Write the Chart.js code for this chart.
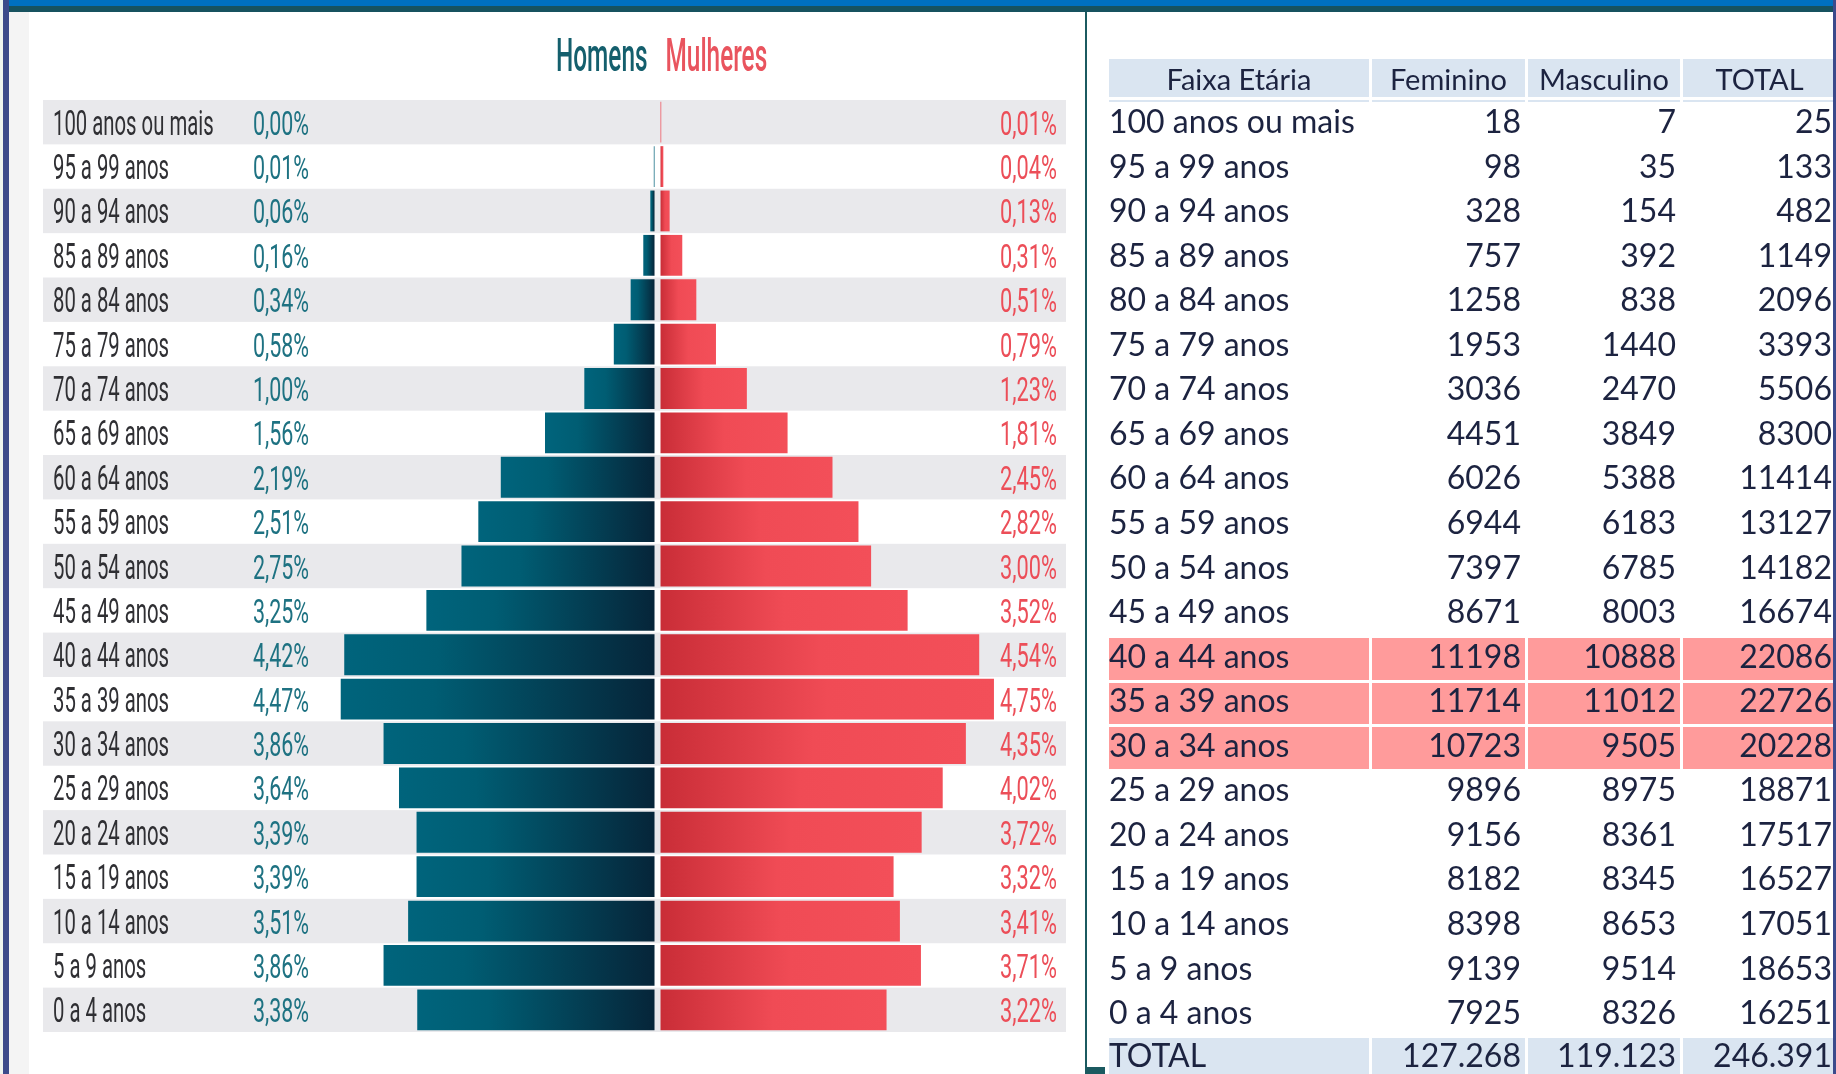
<!DOCTYPE html>
<html lang="pt-BR">
<head>
<meta charset="utf-8">
<title>Pirâmide etária</title>
<script src="https://cdn.jsdelivr.net/npm/chart.js@4.4.1/dist/chart.umd.min.js"></script>
<style>
    html, body { margin: 0; padding: 0; background: #fff; }
    #page { position: relative; width: 1836px; height: 1074px; overflow: hidden; background: #fff; font-family: Lato, 'Open Sans', sans-serif; }
    .blk { position: absolute; }
    #faixaAzul { left: 9px; top: 0; width: 1824px; height: 6px; background: #0070c0; }
    #faixaVerde { left: 9px; top: 6px; width: 1824px; height: 6px; background: #17525f; }
    #bordaClara { left: 0; top: 0; width: 3px; height: 1074px; background: #eef4f0; }
    #bordaEsq { left: 3px; top: 0; width: 6px; height: 1074px; background: #3b4a8b; }
    #faixaCinza { left: 9px; top: 12px; width: 20px; height: 1062px; background: #f4f4f4; }
    #divisor { left: 1085px; top: 12px; width: 2px; height: 1062px; background: #1b5a60; }
    #divisorPe { left: 1085px; top: 1067px; width: 20px; height: 7px; background: #1b5a60; }
    #bordaDir { left: 1833px; top: 0; width: 3px; height: 1074px; background: #3b4a8b; z-index: 5; }
    #chartBox { position: absolute; left: 9px; top: 12px; width: 1076px; height: 1062px; }
    #tabela { position: absolute; left: 0; top: 0; width: 1836px; height: 1074px; }
    .cel { position: absolute; box-sizing: border-box; }
    .txt { position: absolute; white-space: nowrap; color: #1c2340; font-size: 32px; line-height: 32px; }
</style>
</head>
<body>
<div id="page">
    <div class="blk" id="faixaCinza"></div>
    <div id="chartBox"><canvas id="piramide" width="1076" height="1062"></canvas></div>
    <div id="tabela"></div>
    <div class="blk" id="faixaAzul"></div>
    <div class="blk" id="faixaVerde"></div>
    <div class="blk" id="bordaClara"></div>
    <div class="blk" id="bordaEsq"></div>
    <div class="blk" id="divisor"></div>
    <div class="blk" id="divisorPe"></div>
    <div class="blk" id="bordaDir"></div>
</div>
<script>
    const faixas = [
        '100 anos ou mais', '95 a 99 anos', '90 a 94 anos', '85 a 89 anos',
        '80 a 84 anos', '75 a 79 anos', '70 a 74 anos', '65 a 69 anos',
        '60 a 64 anos', '55 a 59 anos', '50 a 54 anos', '45 a 49 anos',
        '40 a 44 anos', '35 a 39 anos', '30 a 34 anos', '25 a 29 anos',
        '20 a 24 anos', '15 a 19 anos', '10 a 14 anos', '5 a 9 anos', '0 a 4 anos',
    ];

    // % da população (pirâmide)
    const homensPct = [
        0.00, 0.01, 0.06, 0.16, 0.34, 0.58, 1.00, 1.56, 2.19, 2.51, 2.75,
        3.25, 4.42, 4.47, 3.86, 3.64, 3.39, 3.39, 3.51, 3.86, 3.38,
    ];
    const mulheresPct = [
        0.01, 0.04, 0.13, 0.31, 0.51, 0.79, 1.23, 1.81, 2.45, 2.82, 3.00,
        3.52, 4.54, 4.75, 4.35, 4.02, 3.72, 3.32, 3.41, 3.71, 3.22,
    ];

    // tabela
    const cabecalho = ['Faixa Etária', 'Feminino', 'Masculino', 'TOTAL'];
    const feminino = [
        18, 98, 328, 757, 1258, 1953, 3036, 4451, 6026, 6944, 7397,
        8671, 11198, 11714, 10723, 9896, 9156, 8182, 8398, 9139, 7925,
    ];
    const masculino = [
        7, 35, 154, 392, 838, 1440, 2470, 3849, 5388, 6183, 6785,
        8003, 10888, 11012, 9505, 8975, 8361, 8345, 8653, 9514, 8326,
    ];
    const totalFaixa = [
        25, 133, 482, 1149, 2096, 3393, 5506, 8300, 11414, 13127, 14182,
        16674, 22086, 22726, 20228, 18871, 17517, 16527, 17051, 18653, 16251,
    ];
    const linhaTotal = ['TOTAL', '127.268', '119.123', '246.391'];
    const destaque = ['40 a 44 anos', '35 a 39 anos', '30 a 34 anos'];

    const FOLGA = 3; // meio vão branco no eixo central

    function pct(v) {
        return v.toFixed(2).replace('.', ',') + '%';
    }

    function textoEstreito(ctx, txt, x, y, escala, align) {
        ctx.save();
        ctx.translate(x, y);
        ctx.scale(escala, 1);
        ctx.textAlign = align;
        ctx.fillText(txt, 0, 0);
        ctx.restore();
    }

    function corBarra(context) {
        const chart = context.chart;
        const homem = context.datasetIndex === 0;
        const solida = homem ? '#00627a' : '#ee4752';
        if (!chart.chartArea || !chart.scales.x || context.type !== 'data') return solida;
        const sx = chart.scales.x;
        const x0 = sx.getPixelForValue(0);
        const x1 = sx.getPixelForValue(context.raw);
        if (Math.abs(x1 - x0) < 1) return solida;
        const ctx = chart.ctx;
        let g;
        if (homem) {
            g = ctx.createLinearGradient(x1 - FOLGA, 0, x0 - FOLGA, 0);
            g.addColorStop(0, '#00647c');
            g.addColorStop(0.3, '#005d73');
            g.addColorStop(1, '#062539');
        } else {
            g = ctx.createLinearGradient(x0 + FOLGA, 0, x1 + FOLGA, 0);
            g.addColorStop(0, '#c92d37');
            g.addColorStop(0.5, '#f04b55');
            g.addColorStop(1, '#f34f59');
        }
        return g;
    }

    const piramidePlugin = {
        id: 'piramide',
        afterDatasetsUpdate(chart) {
            chart.data.datasets.forEach((ds, di) => {
                const d = di === 0 ? -FOLGA : FOLGA;
                chart.getDatasetMeta(di).data.forEach((el) => {
                    el.x += d;
                    el.base += d;
                });
            });
        },
        beforeDatasetsDraw(chart) {
            const { ctx, chartArea } = chart;
            const sy = chart.scales.y;
            const passo = chartArea.height / faixas.length;
            ctx.save();
            ctx.fillStyle = '#e9e9ec';
            faixas.forEach((f, i) => {
                if (i % 2 !== 0) return;
                const yc = sy.getPixelForValue(i);
                ctx.fillRect(chartArea.left, yc - passo / 2, chartArea.right - chartArea.left, passo);
            });
            ctx.restore();
        },
        afterDatasetsDraw(chart) {
            const { ctx, chartArea } = chart;
            const sy = chart.scales.y;
            const x0 = chart.scales.x.getPixelForValue(0);
            ctx.save();
            ctx.textBaseline = 'alphabetic';

            // título
            ctx.font = '500 46px Roboto';
            ctx.fillStyle = '#145f6d';
            textoEstreito(ctx, 'Homens', x0 - 10, 59, 0.53, 'right');
            ctx.fillStyle = '#e9545e';
            textoEstreito(ctx, 'Mulheres', x0 + 8, 59, 0.53, 'left');

            faixas.forEach((f, i) => {
                const yb = sy.getPixelForValue(i) + 12.5;
                ctx.font = '400 35px Roboto';
                ctx.fillStyle = '#2f2f33';
                textoEstreito(ctx, f, chartArea.left + 10, yb, 0.58, 'left');
                ctx.font = '400 33px Roboto';
                ctx.fillStyle = '#1e7282';
                textoEstreito(ctx, pct(homensPct[i]), chartArea.left + 238, yb, 0.65, 'center');
                ctx.fillStyle = '#ec4e58';
                textoEstreito(ctx, pct(mulheresPct[i]), chartArea.right - 9, yb, 0.66, 'right');
            });
            ctx.restore();
        },
    };

    new Chart(document.getElementById('piramide'), {
        type: 'bar',
        data: {
            labels: faixas,
            datasets: [
                {
                    label: 'Homens',
                    data: homensPct.map((v) => -v),
                    backgroundColor: corBarra,
                    borderWidth: 0,
                    barPercentage: 0.92,
                    categoryPercentage: 1,
                },
                {
                    label: 'Mulheres',
                    data: mulheresPct,
                    backgroundColor: corBarra,
                    borderWidth: 0,
                    barPercentage: 0.92,
                    categoryPercentage: 1,
                },
            ],
        },
        options: {
            indexAxis: 'y',
            responsive: false,
            animation: false,
            events: [],
            layout: {
                padding: { left: 34, right: 19, top: 88, bottom: 42 },
            },
            plugins: {
                legend: { display: false },
                tooltip: { enabled: false },
                title: { display: false },
            },
            scales: {
                x: { display: false, stacked: true, min: -8.754, max: 5.819 },
                y: { display: false, stacked: true },
            },
        },
        plugins: [piramidePlugin],
    });

    // tabela à direita
    (function () {
        const raiz = document.getElementById('tabela');
        const colunas = [[1109, 1369], [1372, 1525], [1528, 1680], [1683, 1836]];
        const azul = '#dae5f1';
        const rosa = '#ff9b9b';
        const topoDados = 102;
        const altLinha = 44.55;

        function celula(col, top, alt, fundo, texto, align, dy, tam) {
            const [x0, x1] = colunas[col];
            const c = document.createElement('div');
            c.className = 'cel';
            c.style.left = x0 + 'px';
            c.style.top = top + 'px';
            c.style.width = (x1 - x0) + 'px';
            c.style.height = alt + 'px';
            if (fundo) c.style.background = fundo;
            raiz.appendChild(c);
            if (texto === null) return;
            const t = document.createElement('div');
            t.className = 'txt';
            t.textContent = texto;
            t.style.top = dy + 'px';
            if (tam) { t.style.fontSize = tam + 'px'; t.style.lineHeight = tam + 'px'; }
            if (align === 'left') t.style.left = '0px';
            else if (align === 'right') t.style.right = '4px';
            else { t.style.left = '0'; t.style.width = '100%'; t.style.textAlign = 'center'; }
            c.appendChild(t);
        }

        cabecalho.forEach((h, j) => {
            celula(j, 59, 38, azul, h, 'center', 5, 29);
            celula(j, 100, 2, azul, null);
        });

        faixas.forEach((f, i) => {
            const top = topoDados + i * altLinha;
            const marcado = destaque.includes(f);
            const valores = [f, String(feminino[i]), String(masculino[i]), String(totalFaixa[i])];
            valores.forEach((v, j) => {
                if (marcado) {
                    celula(j, top + 1.5, altLinha - 3, rosa, v, j === 0 ? 'left' : 'right', 1.6);
                } else {
                    celula(j, top, altLinha, null, v, j === 0 ? 'left' : 'right', 3.1);
                }
            });
        });

        const topoTotal = topoDados + faixas.length * altLinha;
        linhaTotal.forEach((v, j) => {
            celula(j, topoTotal, 45, azul, v, j === 0 ? 'left' : 'right', 1);
        });
    })();
</script>
</body>
</html>
